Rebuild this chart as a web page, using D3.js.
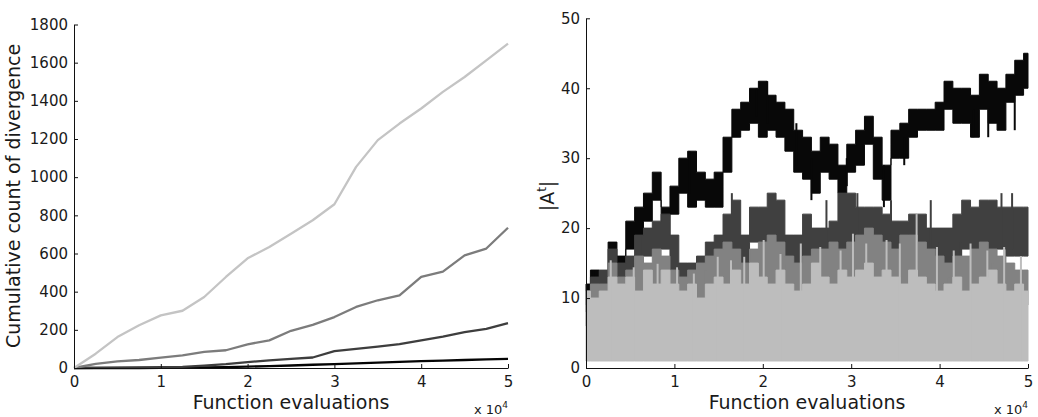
<!DOCTYPE html>
<html><head><meta charset="utf-8">
<script src="https://cdn.jsdelivr.net/npm/d3@7"></script>
<style>body{margin:0;background:#fff}svg{display:block}text{font-family:"DejaVu Sans",sans-serif;fill:#1a1a1a}</style>
</head><body><svg id="c" width="1038" height="417"></svg>
<script>
// ---- Left chart data: cumulative count of divergence (x in units of 10^4 evaluations)
const leftX = [0,0.25,0.5,0.75,1,1.25,1.5,1.75,2,2.25,2.5,2.75,3,3.25,3.5,3.75,4,4.25,4.5,4.75,5];
const leftLight  = [0,75,162,224,276,300,372,477,575,634,704,774,858,1054,1194,1281,1360,1447,1525,1612,1700];
const leftMedium = [0,22,35,42,54,66,84,93,124,145,195,226,267,320,355,381,477,505,590,626,735];
const leftDark   = [0,1,2,3,4,6,12,20,31,40,48,55,88,100,112,125,145,165,188,205,235];
const leftBlack  = [0,0,0,0,1,2,3,5,7,10,13,17,20,24,28,32,36,39,42,45,48];
const leftYTicks = [0,200,400,600,800,1000,1200,1400,1600,1800];
const xTicks = [0,1,2,3,4,5];

// ---- Right chart data: |A^t| band (low/high read per 0.1 x 10^4)
const rightX = d3.range(51).map(i => i/10);
const blackLo = [9,10,9,14,13,17,19,21,24,19,22,25,23,24,23,23,28,33,34,35,33,34,33,31,28,27,25,28,27,25,28,29,32,27,24,30,30,33,34,34,34,37,35,35,33,37,35,34,38,39,40];
const blackHi = [12,14,13,18,16,21,23,25,28,23,26,30,31,28,27,28,33,37,38,40,41,39,38,37,34,33,31,33,32,29,32,34,36,33,29,34,35,37,37,37,38,41,40,40,39,42,41,40,42,44,45];
const darkLo  = [8,9,10,12,11,12,14,16,17,17,14,12,12,13,14,15,17,16,13,18,18,18,18,14,14,16,15,15,16,17,17,17,17,16,16,16,15,14,14,14,14,14,15,17,17,17,17,17,16,16,16];
const darkHi  = [11,13,14,17,15,16,19,20,21,22,19,15,15,16,18,19,22,24,19,23,23,25,24,19,19,22,20,20,21,25,25,23,23,23,22,21,21,22,22,20,20,20,22,24,23,24,24,23,23,23,23];
const medLo   = [6,7,7,8,8,9,10,9,10,9,9,9,9,8,9,10,11,10,10,11,11,12,11,10,9,10,10,11,11,10,11,12,12,12,11,11,12,12,11,10,10,9,10,10,11,12,11,10,9,9,9];
const medHi   = [11,12,12,15,13,14,16,15,17,16,14,13,14,15,16,17,18,17,15,17,18,19,18,16,15,16,17,17,18,17,18,19,20,19,18,17,19,19,18,17,16,15,16,16,17,18,17,16,15,14,14];
const lightLo = rightX.map(() => 1);
const lightHi = [11,10,11,13,12,13,11,14,12,14,12,11,12,10,12,13,12,14,12,15,13,12,14,12,11,12,15,13,12,14,13,14,15,13,14,13,12,14,13,12,11,12,13,11,12,13,14,12,11,12,11];
// isolated spikes: [x, low, high]
const blackSpikes = [[0.08,10,14],[0.2,9,13],[1.17,25,31],[1.93,36,40],[2.05,35,41],[2.38,29,35],[2.55,24,30],[2.95,26,30],[3.37,23,29],[3.6,29,33],[4.38,33,37],[4.55,33,37],[4.85,34,39]];
const darkSpikes  = [[0.62,12,19],[1.65,15,25],[2.07,16,24],[2.72,15,24],[3.07,17,25],[3.45,16,24],[3.9,14,24],[4.0,13,18],[4.24,13,18],[4.7,17,25],[4.82,17,25]];
const medSpikes   = [[0.45,7,12],[0.95,8,13],[1.35,8,14],[2.25,8,15],[3.05,8,15],[3.75,9,17],[4.1,7,13],[4.6,8,15],[4.95,8,14]];
const lightSpikes = [[0.28,1,15.4],[0.54,1,14.4],[0.81,1,14.9],[1.03,1,14.4],[1.22,1,13.5],[1.49,1,15.9],[1.64,1,15.4],[1.79,1,15.9],[2.01,1,18.3],[2.2,1,16.3],[2.43,1,17.8],[2.65,1,17.3],[2.88,1,16.8],[3.02,1,19.2],[3.17,1,17.8],[3.4,1,18.3],[3.55,1,17.8],[3.74,1,22],[3.97,1,17.3],[4.16,1,16.8],[4.35,1,17.8],[4.54,1,16.8],[4.73,1,17.3],[4.92,1,16]];
const rightYTicks = [0,10,20,30,40,50];

const svg = d3.select("#c");

function axes(g, x, y, yTicks) {
  g.append("g").attr("transform", `translate(0,${y.range()[0]})`)
    .call(d3.axisBottom(x).tickValues(xTicks).tickSize(-4).tickSizeOuter(0).tickPadding(8).tickFormat(d3.format("d")))
    .call(s => s.select(".domain").attr("stroke", "#111"))
    .call(s => s.selectAll("line").attr("stroke", "#111"))
    .call(s => s.selectAll("text").attr("font-size", 15).attr("font-family", "DejaVu Sans").attr("fill", "#1a1a1a"));
  g.append("g").attr("transform", `translate(${x.range()[0]},0)`)
    .call(d3.axisLeft(y).tickValues(yTicks).tickSize(-4).tickSizeOuter(0).tickPadding(6).tickFormat(d3.format("d")))
    .call(s => s.select(".domain").attr("stroke", "#111"))
    .call(s => s.selectAll("line").attr("stroke", "#111"))
    .call(s => s.selectAll("text").attr("font-size", 15).attr("font-family", "DejaVu Sans").attr("fill", "#1a1a1a"));
}

// ---- Left chart
const xL = d3.scaleLinear().domain([0,5]).range([74,508]);
const yL = d3.scaleLinear().domain([0,1800]).range([368,24.5]);
const gL = svg.append("g");
const lineL = d3.line().x((d,i) => xL(leftX[i])).y(d => yL(d));
[[leftBlack,"#050505"],[leftDark,"#3e3e3e"],[leftMedium,"#7c7c7c"],[leftLight,"#c4c4c4"]].forEach(([s,c]) => {
  gL.append("path").attr("d", lineL(s)).attr("fill","none").attr("stroke",c).attr("stroke-width",2.3).attr("stroke-linejoin","round");
});
axes(gL, xL, yL, leftYTicks);
gL.append("text").attr("x", 291).attr("y", 409).attr("text-anchor","middle").attr("font-size",19).text("Function evaluations");
gL.append("text").attr("transform","translate(20,196) rotate(-90)").attr("text-anchor","middle").attr("font-size",19).text("Cumulative count of divergence");
const sL = gL.append("text").attr("x", 508).attr("y", 414).attr("text-anchor","end").attr("font-size",13);
sL.append("tspan").text("x 10");
sL.append("tspan").attr("dy",-6).attr("font-size",9).text("4");

// ---- Right chart
const xR = d3.scaleLinear().domain([0,5]).range([586,1028]);
const yR = d3.scaleLinear().domain([0,50]).range([368,18.3]);
const gR = svg.append("g");
const band = (lo, hi) => d3.area().curve(d3.curveStep).x((d,i) => xR(rightX[i])).y0((d,i) => yR(lo[i])).y1((d,i) => yR(hi[i]))(rightX);
const layers = [
  [blackLo,blackHi,blackSpikes,"#080808"],
  [darkLo,darkHi,darkSpikes,"#404040"],
  [medLo,medHi,medSpikes,"#828282"],
  [lightLo,lightHi,lightSpikes,"#bdbdbd"]
];
layers.forEach(([lo,hi,sp,c]) => {
  gR.append("path").attr("d", band(lo,hi)).attr("fill", c).attr("stroke", c).attr("stroke-width", 1);
  gR.append("g").selectAll("line").data(sp).join("line")
    .attr("x1", d => xR(d[0])).attr("x2", d => xR(d[0]))
    .attr("y1", d => yR(d[1])).attr("y2", d => yR(d[2]))
    .attr("stroke", c).attr("stroke-width", 2);
});
axes(gR, xR, yR, rightYTicks);
gR.append("text").attr("x", 807).attr("y", 409).attr("text-anchor","middle").attr("font-size",19).text("Function evaluations");
const aR = gR.append("text").attr("transform","translate(554,196) rotate(-90)").attr("text-anchor","middle").attr("font-size",19);
aR.append("tspan").text("|A");
aR.append("tspan").attr("dy",-8).attr("font-size",12).text("t");
aR.append("tspan").attr("dy",8).text("|");
const sR = gR.append("text").attr("x", 1028).attr("y", 414).attr("text-anchor","end").attr("font-size",13);
sR.append("tspan").text("x 10");
sR.append("tspan").attr("dy",-6).attr("font-size",9).text("4");
</script></body></html>
